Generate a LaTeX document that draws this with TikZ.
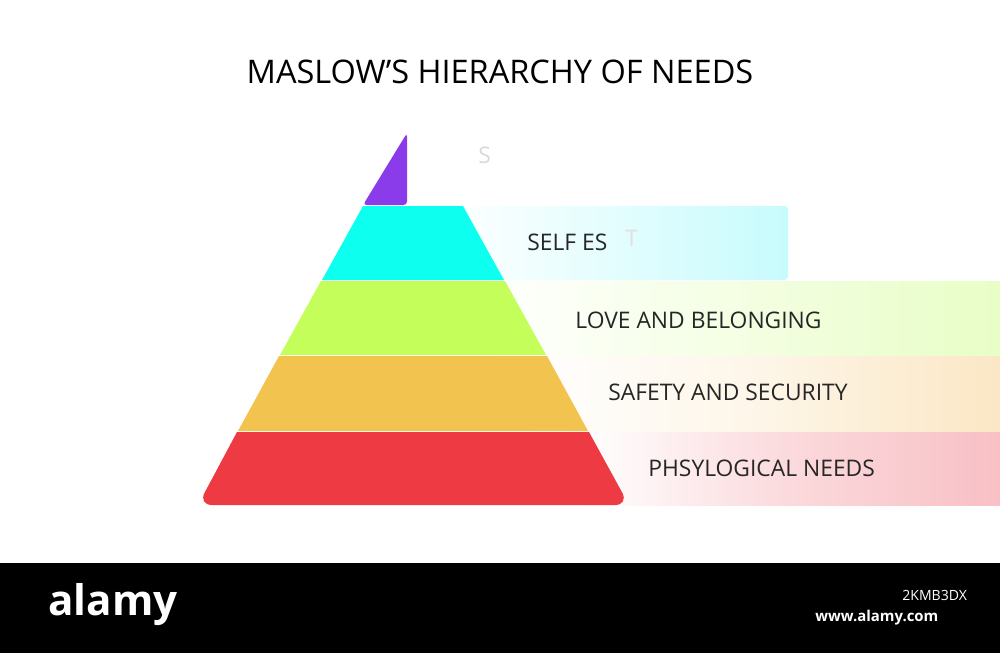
\documentclass[tikz,border=0pt]{standalone}
\usepackage{fontspec}
\setmainfont{Open Sans}
\definecolor{cpur}{HTML}{8A3CEB}
\definecolor{ccya}{HTML}{0DFFEF}
\definecolor{cgre}{HTML}{C4FE5A}
\definecolor{cora}{HTML}{F2C44F}
\definecolor{cred}{HTML}{EE3B43}
\definecolor{lcya}{HTML}{C8FBFD}
\definecolor{lgre}{HTML}{E8FEC6}
\definecolor{lora}{HTML}{FBE7C5}
\definecolor{lred}{HTML}{F8C0C5}
\tikzset{lab/.style={anchor=west,inner sep=0,font=\fontsize{13pt}{14pt}\selectfont,text=black!85}}
\begin{document}
\begin{tikzpicture}[x=0.02cm,y=-0.02cm]
\useasboundingbox (0,0) rectangle (1000,653);
\fill[white] (0,0) rectangle (1000,653);
% bands
\shade[left color=white,right color=lcya,rounded corners=2] (440,206) rectangle (788,280);
\shade[left color=white,right color=lgre] (480,281) rectangle (1000,355);
\shade[left color=white,right color=lora,middle color=lora!40] (520,356) rectangle (1000,431);
\shade[left color=white,right color=lred,middle color=lred!60] (580,432) rectangle (1000,505);
% pyramid tiers
\fill[cpur,rounded corners=2] (363,205) -- (407,133) -- (407,205) -- cycle;
\fill[ccya] (363,206) -- (463,206) -- (504,280) -- (322,280) -- cycle;
\fill[cgre] (321,281) -- (505,281) -- (546,355) -- (280,355) -- cycle;
\fill[cora] (279,356) -- (547,356) -- (588,431) -- (238,431) -- cycle;
\fill[cred] (237,432) -- (589,432) [rounded corners=8] -- (629,505) -- (198,505) [sharp corners] -- cycle;
% texts
\node[inner sep=0,font=\fontsize{18.5pt}{20pt}\selectfont] (title) at (500,72) {MASLOW’S HIERARCHY OF NEEDS};
\node[lab] (l1) at (527,242) {SELF ES};
\node[lab] (l2) at (575,320) {LOVE AND BELONGING};
\node[lab] (l3) at (608,392) {SAFETY AND SECURITY};
\node[lab] (l4) at (648,468) {PHSYLOGICAL NEEDS};
\node[lab,text=black!15] (g1) at (478,155) {S};
\node[lab,text=black!12] (g2) at (625,238) {T};
% footer
\fill[black] (0,563) rectangle (1000,653);
\node[anchor=west,inner sep=0,text=white,font=\fontsize{24pt}{24pt}\bfseries\selectfont] (alamy) at (48,605) {alamy};
\node[anchor=west,inner sep=0,text=white,font=\fontsize{8pt}{10pt}\selectfont] (id) at (902,595) {2KMB3DX};
\node[anchor=west,inner sep=0,text=white,font=\fontsize{8.5pt}{10pt}\bfseries\selectfont] (www) at (815,618) {www.alamy.com};
\end{tikzpicture}
\end{document}
